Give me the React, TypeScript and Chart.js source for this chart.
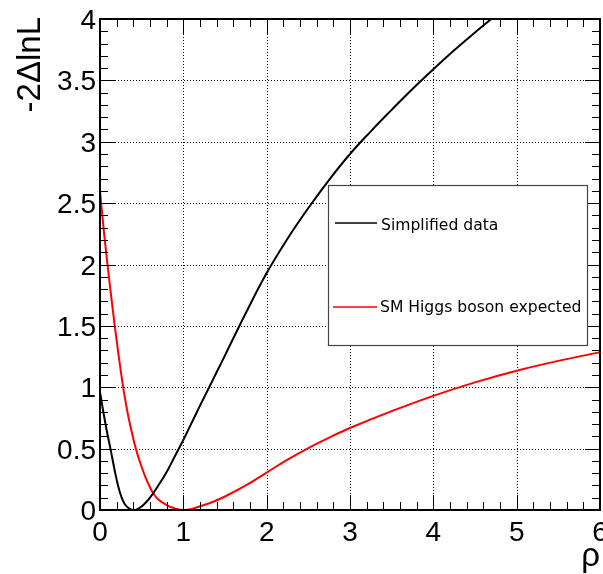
import React, { useEffect, useRef } from 'react';
import { Chart, registerables } from 'chart.js';

Chart.register(...registerables);

// ---- data ----
const seriesLabels = ['Simplified data', 'SM Higgs boson expected'];
const seriesColors = ['#000000', '#ff0000'];

const dataX = [0, 0.04, 0.08, 0.128, 0.18, 0.22, 0.26, 0.3, 0.35, 0.41, 0.47, 0.53, 0.6, 0.7, 0.8, 0.9, 0.95, 1.0, 1.1, 1.2, 1.31, 1.5, 1.75, 2.0, 2.25, 2.5, 2.75, 3.0, 3.25, 3.5, 3.75, 4.0, 4.25, 4.5, 4.75, 5.0];
const dataY = [0.96, 0.8, 0.65, 0.49, 0.31, 0.19, 0.1, 0.045, 0.012, 0, 0.015, 0.047, 0.1, 0.2, 0.31, 0.44, 0.505, 0.57, 0.71, 0.85, 1.0, 1.26, 1.605, 1.93, 2.21, 2.46, 2.69, 2.9, 3.085, 3.26, 3.43, 3.59, 3.745, 3.89, 4.03, 4.16];

const smX = [0, 0.05, 0.1, 0.15, 0.2, 0.25, 0.3, 0.35, 0.43, 0.5, 0.55, 0.6, 0.64, 0.7, 0.8, 0.86, 0.93, 1.0, 1.1, 1.2, 1.35, 1.5, 1.75, 2.0, 2.25, 2.5, 2.75, 3.0, 3.5, 4.0, 4.5, 5.0, 5.5, 6.0];
const smY = [2.6, 2.25, 1.94, 1.65, 1.38, 1.13, 0.91, 0.73, 0.5, 0.35, 0.26, 0.185, 0.135, 0.085, 0.04, 0.022, 0.006, 0, 0.008, 0.03, 0.065, 0.11, 0.2, 0.305, 0.41, 0.505, 0.59, 0.668, 0.805, 0.93, 1.04, 1.135, 1.215, 1.285];

const xTickValues = [0, 1, 2, 3, 4, 5, 6];
const xTickLabels = ['0', '1', '2', '3', '4', '5', '6'];
const yTickValues = [0, 0.5, 1, 1.5, 2, 2.5, 3, 3.5, 4];
const yTickLabels = ['0', '0.5', '1', '1.5', '2', '2.5', '3', '3.5', '4'];
const xTitle = 'ρ';
const yTitle = '-2ΔlnL';

const LABEL_FONT = '"Liberation Sans", Arial, Helvetica, sans-serif';

const rootStyle = {
  id: 'rootStyle',
  beforeDatasetsDraw(chart: any) {
    const { ctx, chartArea: a, scales } = chart;
    const x = scales.x, y = scales.y;
    ctx.save();
    ctx.strokeStyle = '#000';
    ctx.lineWidth = 1;
    ctx.setLineDash([1, 2]);
    ctx.beginPath();
    xTickValues.forEach((v) => {
      if (v <= x.min || v >= x.max) return;
      const px = Math.round(x.getPixelForValue(v)) + 0.5;
      ctx.moveTo(px, a.top);
      ctx.lineTo(px, a.bottom);
    });
    yTickValues.forEach((v) => {
      if (v <= y.min || v >= y.max) return;
      const py = Math.round(y.getPixelForValue(v)) + 0.5;
      ctx.moveTo(a.left, py);
      ctx.lineTo(a.right, py);
    });
    ctx.stroke();
    ctx.restore();
  },
  afterDatasetsDraw(chart: any) {
    const { ctx, chartArea: a, scales } = chart;
    const x = scales.x, y = scales.y;
    ctx.save();

    // ticks (inside, all four sides)
    const majorLen = 15, minorLen = 8;
    ctx.strokeStyle = '#000';
    ctx.lineWidth = 1;
    ctx.beginPath();
    const xt: [number, number][] = [];
    xTickValues.forEach((v, i) => {
      xt.push([v, majorLen]);
      if (i < xTickValues.length - 1) {
        const n = xTickValues[i + 1];
        for (let k = 1; k < 5; k++) xt.push([v + ((n - v) * k) / 5, minorLen]);
      }
    });
    xt.forEach(([v, len]) => {
      const px = Math.round(x.getPixelForValue(v)) + 0.5;
      ctx.moveTo(px, a.bottom);
      ctx.lineTo(px, a.bottom - len);
      ctx.moveTo(px, a.top);
      ctx.lineTo(px, a.top + len);
    });
    const yt: [number, number][] = [];
    yTickValues.forEach((v, i) => {
      yt.push([v, majorLen]);
      if (i < yTickValues.length - 1) {
        const n = yTickValues[i + 1];
        for (let k = 1; k < 5; k++) yt.push([v + ((n - v) * k) / 5, minorLen]);
      }
    });
    yt.forEach(([v, len]) => {
      const py = Math.round(y.getPixelForValue(v)) + 0.5;
      ctx.moveTo(a.left, py);
      ctx.lineTo(a.left + len, py);
      ctx.moveTo(a.right, py);
      ctx.lineTo(a.right - len, py);
    });
    ctx.stroke();

    // frame
    ctx.lineWidth = 2;
    ctx.strokeRect(a.left, a.top, a.right - a.left, a.bottom - a.top);

    // tick labels
    ctx.fillStyle = '#000';
    ctx.font = `28px ${LABEL_FONT}`;
    ctx.textAlign = 'center';
    ctx.textBaseline = 'alphabetic';
    xTickValues.forEach((v, i) => {
      ctx.fillText(xTickLabels[i], x.getPixelForValue(v), a.bottom + 31);
    });
    ctx.textAlign = 'right';
    yTickValues.forEach((v, i) => {
      ctx.fillText(yTickLabels[i], a.left - 4, y.getPixelForValue(v) + 10);
    });

    // axis titles
    ctx.font = `33px ${LABEL_FONT}`;
    ctx.textAlign = 'right';
    ctx.fillText(xTitle, a.right, a.bottom + 56);
    ctx.save();
    ctx.translate(40, a.top - 2);
    ctx.rotate(-Math.PI / 2);
    ctx.textAlign = 'right';
    ctx.fillText(yTitle, 0, 0);
    ctx.restore();

    // legend
    const lx = 328.5, ly = 185.5, lw = 259, lh = 160;
    ctx.fillStyle = '#fff';
    ctx.fillRect(lx, ly, lw, lh);
    ctx.strokeStyle = '#444';
    ctx.lineWidth = 1.2;
    ctx.strokeRect(lx, ly, lw, lh);
    const rows = [
      { lineY: 223, textY: 230, x0: 335, x1: 377, tx: 381 },
      { lineY: 307, textY: 312, x0: 333, x1: 377, tx: 380 },
    ];
    ctx.font = '15.6px "DejaVu Sans", sans-serif';
    ctx.textAlign = 'left';
    rows.forEach((r, i) => {
      ctx.strokeStyle = seriesColors[i];
      ctx.lineWidth = 1.5;
      ctx.beginPath();
      ctx.moveTo(r.x0, r.lineY);
      ctx.lineTo(r.x1, r.lineY);
      ctx.stroke();
      ctx.fillStyle = '#000';
      ctx.fillText(seriesLabels[i], r.tx, r.textY);
    });

    ctx.restore();
  },
};

export default function App() {
  const ref = useRef<HTMLCanvasElement | null>(null);

  useEffect(() => {
    document.body.style.margin = '0';
    document.body.style.overflow = 'hidden';
    const canvas = ref.current;
    if (!canvas) return;
    const chart = new Chart(canvas, {
      type: 'line',
      data: {
        datasets: [
          {
            label: seriesLabels[0],
            data: dataX.map((v, i) => ({ x: v, y: dataY[i] })),
            borderColor: seriesColors[0],
            borderWidth: 2,
            pointRadius: 0,
            fill: false,
            tension: 0.4,
          },
          {
            label: seriesLabels[1],
            data: smX.map((v, i) => ({ x: v, y: smY[i] })),
            borderColor: seriesColors[1],
            borderWidth: 2,
            pointRadius: 0,
            fill: false,
            tension: 0.4,
          },
        ],
      },
      options: {
        responsive: false,
        animation: false,
        events: [],
        layout: { padding: { left: 100, top: 19, right: 3, bottom: 64 } },
        plugins: { legend: { display: false }, tooltip: { enabled: false } },
        scales: {
          x: { type: 'linear', min: 0, max: 6, display: false },
          y: { type: 'linear', min: 0, max: 4, display: false },
        },
      },
      plugins: [rootStyle],
    } as any);
    return () => chart.destroy();
  }, []);

  return (
    <div style={{ width: 603, height: 574, background: '#fff' }}>
      <canvas ref={ref} width={603} height={574} style={{ display: 'block' }} />
    </div>
  );
}
